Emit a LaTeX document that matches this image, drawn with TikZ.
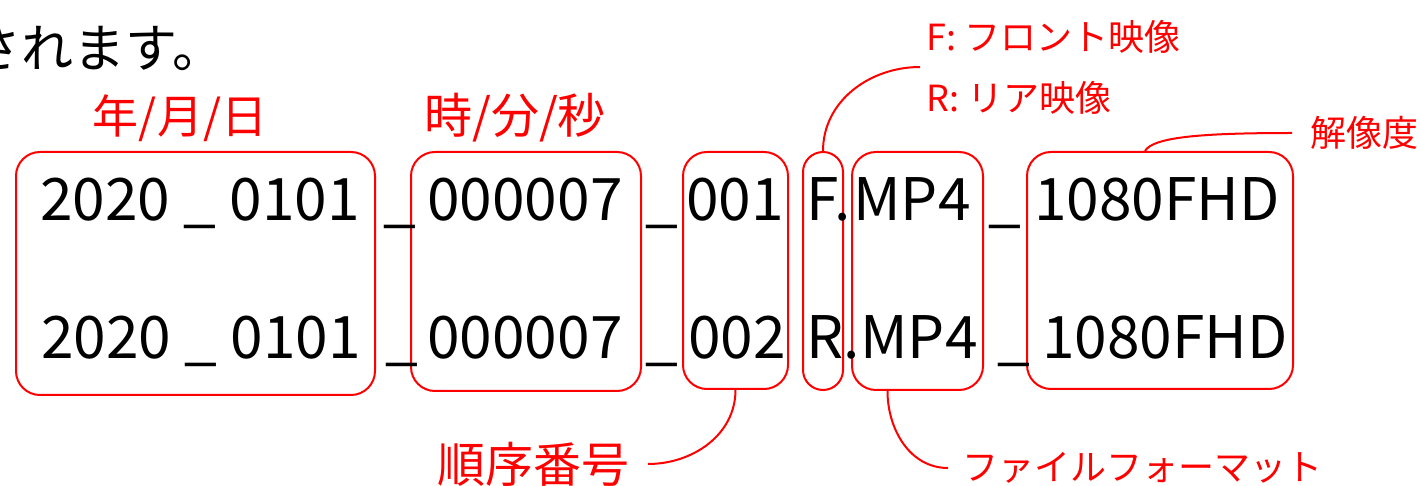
\documentclass[tikz,border=0pt]{standalone}
\usepackage{fontspec}
\setmainfont{Noto Sans CJK JP}
\usetikzlibrary{fit}
\definecolor{markred}{RGB}{255,0,0}

\begin{document}
\begin{tikzpicture}[x=0.5pt, y=-0.5pt,
    namebox/.style={draw=markred, line width=1pt, rounded corners=12pt, inner sep=0pt},
    fnum/.style={anchor=base west, inner sep=0pt, font=\fontsize{29.3}{29.3}\selectfont},
    redtag/.style={text=markred, inner sep=0pt},
    leadline/.style={draw=markred, line width=1pt}]
    \useasboundingbox (0,0) rectangle (1420,486);

    % Sentence end
    \node[anchor=west, inner sep=0pt, font=\fontsize{26}{26}\selectfont] (tail) at (-31,48) {されます。};

    % Boxes
    \node[namebox, fit={(16,152) (375,395)}] (ymd) {};
    \node[namebox, fit={(411,152) (641,391)}] (hms) {};
    \node[namebox, fit={(683,152) (788,389)}] (seq) {};
    \node[namebox, rounded corners=10pt, fit={(803,152) (843,390)}] (cam) {};
    \node[namebox, fit={(852,152) (983,390)}] (fmt) {};
    \node[namebox, fit={(1027,152) (1293,389)}] (res) {};

    % File names
    \node[fnum] (ymda) at (40,221) {2020 \_ 0101};
    \node[fnum] (hmsa) at (427,221) {000007};
    \node[fnum] (seqa) at (686,221) {001};
    \node[fnum] (cama) at (806,221) {F.};
    \node[fnum] (fmta) at (853,221) {MP4};
    \node[fnum] (resa) at (1034,221) {1080FHD};

    \node[fnum] (ymdb) at (41,359) {2020 \_ 0101};
    \node[fnum] (hmsb) at (427,359) {000007};
    \node[fnum] (seqb) at (688,359) {002};
    \node[fnum] (camb) at (806,359) {R.};
    \node[fnum] (fmtb) at (860,359) {MP4};
    \node[fnum] (resb) at (1042,359) {1080FHD};

    % Separators
    \foreach \x/\y [count=\i] in {383/221, 385/359, 645/221, 645/359, 988/221, 997/359}
        \node[fnum] (sep\i) at (\x,\y) {\_};

    % Labels
    \node[redtag, font=\fontsize{23}{23}\selectfont] (ymdtag) at (180,118) {年/月/日};
    \node[redtag, font=\fontsize{24}{24}\selectfont] (hmstag) at (515,118) {時/分/秒};
    \node[redtag, anchor=west, inner xsep=3pt, align=left, font=\fontsize{18}{30.5}\selectfont]
        (camtag) at (920,67) {F: フロント映像\\R: リア映像};
    \node[redtag, anchor=west, inner xsep=9pt, font=\fontsize{18}{18}\selectfont] (restag) at (1292,133) {解像度};
    \node[redtag, anchor=east, inner xsep=9pt, font=\fontsize{24}{24}\selectfont] (seqtag) at (648,464) {順序番号};
    \node[redtag, anchor=west, inner xsep=7pt, font=\fontsize{18}{18}\selectfont] (fmttag) at (948,468) {ファイルフォーマット};

    % Leaders
    \draw[leadline] (cam.north) to[out=90, in=180] (camtag.west);
    \draw[leadline] ([xshift=-7.5pt]res.north) .. controls +(8,-14) and +(-90,0) .. (restag.west);
    \draw[leadline] (seq.south) to[out=-90, in=0] (seqtag.east);
    \draw[leadline] ([xshift=-15pt]fmt.south) to[out=-90, in=180] (fmttag.west);
\end{tikzpicture}
\end{document}
